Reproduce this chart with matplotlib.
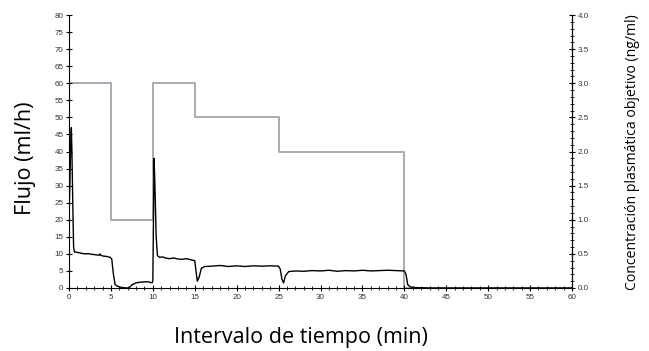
import numpy as np
import matplotlib.pyplot as plt
from matplotlib.ticker import MultipleLocator

# flujo medido (ml/h)
t_flujo = [0, 0.1, 0.2, 0.28, 0.35, 0.45, 0.55, 0.65, 0.8, 1.0, 1.3, 1.6, 2.0, 2.3, 2.6, 3.0,
           3.3, 3.6, 3.7, 3.8, 4.0, 4.3, 4.6, 4.9, 5.1, 5.3, 5.5, 5.8, 6.2, 6.8, 7.2, 7.5,
           8.0, 8.5, 9.0, 9.5, 9.9, 10.0, 10.15, 10.25, 10.4, 10.55, 10.8, 11.2, 11.5, 12.0,
           12.5, 13.0, 13.5, 14.0, 14.5, 15.0, 15.15, 15.3, 15.5, 15.8, 16.2, 17.0, 18.0,
           19.0, 20.0, 21.0, 22.0, 23.0, 24.0, 25.0, 25.2, 25.4, 25.6, 25.8, 26.2, 27.0,
           28.0, 29.0, 30.0, 31.0, 32.0, 33.0, 34.0, 35.0, 36.0, 37.0, 38.0, 39.0, 40.0,
           40.2, 40.4, 40.7, 41.5, 43.0, 50.0, 60.0]
flujo = [20, 30, 42, 47, 40, 25, 12, 10.5, 10.6, 10.4, 10.3, 10.1, 10.0, 10.1, 9.9, 9.8,
         9.7, 9.6, 10.0, 9.6, 9.4, 9.3, 9.2, 9.0, 8.5, 4.0, 1.0, 0.5, 0.2, 0.0, 0.1, 0.9,
         1.5, 1.7, 1.8, 1.8, 1.5, 2.0, 38, 30, 15, 9.5, 9.0, 9.1, 8.8, 8.6,
         8.8, 8.5, 8.4, 8.6, 8.3, 8.0, 5.0, 2.0, 3.0, 5.8, 6.3, 6.4, 6.6,
         6.3, 6.5, 6.3, 6.5, 6.4, 6.5, 6.4, 5.5, 2.5, 1.5, 3.5, 4.8, 5.0,
         4.9, 5.1, 5.0, 5.2, 4.9, 5.1, 5.0, 5.2, 5.0, 5.1, 5.2, 5.1, 5.0,
         4.0, 1.0, 0.3, 0.1, 0.0, 0.0, 0.0]

# concentracion plasmatica objetivo (ng/ml)
t_conc = [0, 5, 10, 15, 25, 40, 60]
conc = [3.0, 1.0, 3.0, 2.5, 2.0, 0.0, 0.0]

plt.rcParams['font.family'] = ['Liberation Sans', 'DejaVu Sans']

W, H = 649, 351
fig = plt.figure(figsize=(W / 100, H / 100), dpi=100)
ax = fig.add_axes([0.1063, 0.1795, 0.7751, 0.7775])
ax2 = ax.twinx()

ax2.step(t_conc, conc, where='post', color='#a0a6ae', lw=1.3)
ax.plot(t_flujo, flujo, color='black', lw=1.0, zorder=5)
ax.set_zorder(ax2.get_zorder() + 1)
ax.patch.set_visible(False)

ax.set_xlim(0, 60)
ax.set_ylim(0, 80)
ax2.set_ylim(0, 4)

ax.xaxis.set_major_locator(MultipleLocator(5))
ax.xaxis.set_minor_locator(MultipleLocator(1))
ax.yaxis.set_major_locator(MultipleLocator(5))
ax2.yaxis.set_major_locator(MultipleLocator(0.5))
ax2.yaxis.set_minor_locator(MultipleLocator(0.1))
ax2.yaxis.set_major_formatter(plt.FormatStrFormatter('%.1f'))

for a in (ax, ax2):
    a.spines['top'].set_visible(False)
    a.tick_params(which='major', direction='inout', length=4, width=0.8, labelsize=5.8,
                  labelcolor='#333333', pad=2)
    a.tick_params(which='minor', direction='inout', length=2.5, width=0.6)
ax2.spines['left'].set_visible(False)
ax2.spines['bottom'].set_visible(False)

# axis titles placed by pixel centre, size fitted to the length seen in the reference
labels = [
    ('Intervalo de tiempo (min)', 301, 337.5, 0, 252),
    ('Flujo (ml/h)', 25, 158.5, 90, 113),
    ('Concentración plasmática objetivo (ng/ml)', 633, 152.5, 90, 272),
]
texts = []
for s, px, py, rot, length in labels:
    t = fig.text(px / W, 1 - py / H, s, family='Open Sans', fontsize=12, rotation=rot,
                 ha='center', va='center')
    texts.append((t, length))

fig.canvas.draw()
r = fig.canvas.get_renderer()
for t, length in texts:
    bb = t.get_window_extent(r)
    t.set_fontsize(t.get_fontsize() * length / max(bb.width, bb.height))

fig.savefig('out.png', dpi=100)
